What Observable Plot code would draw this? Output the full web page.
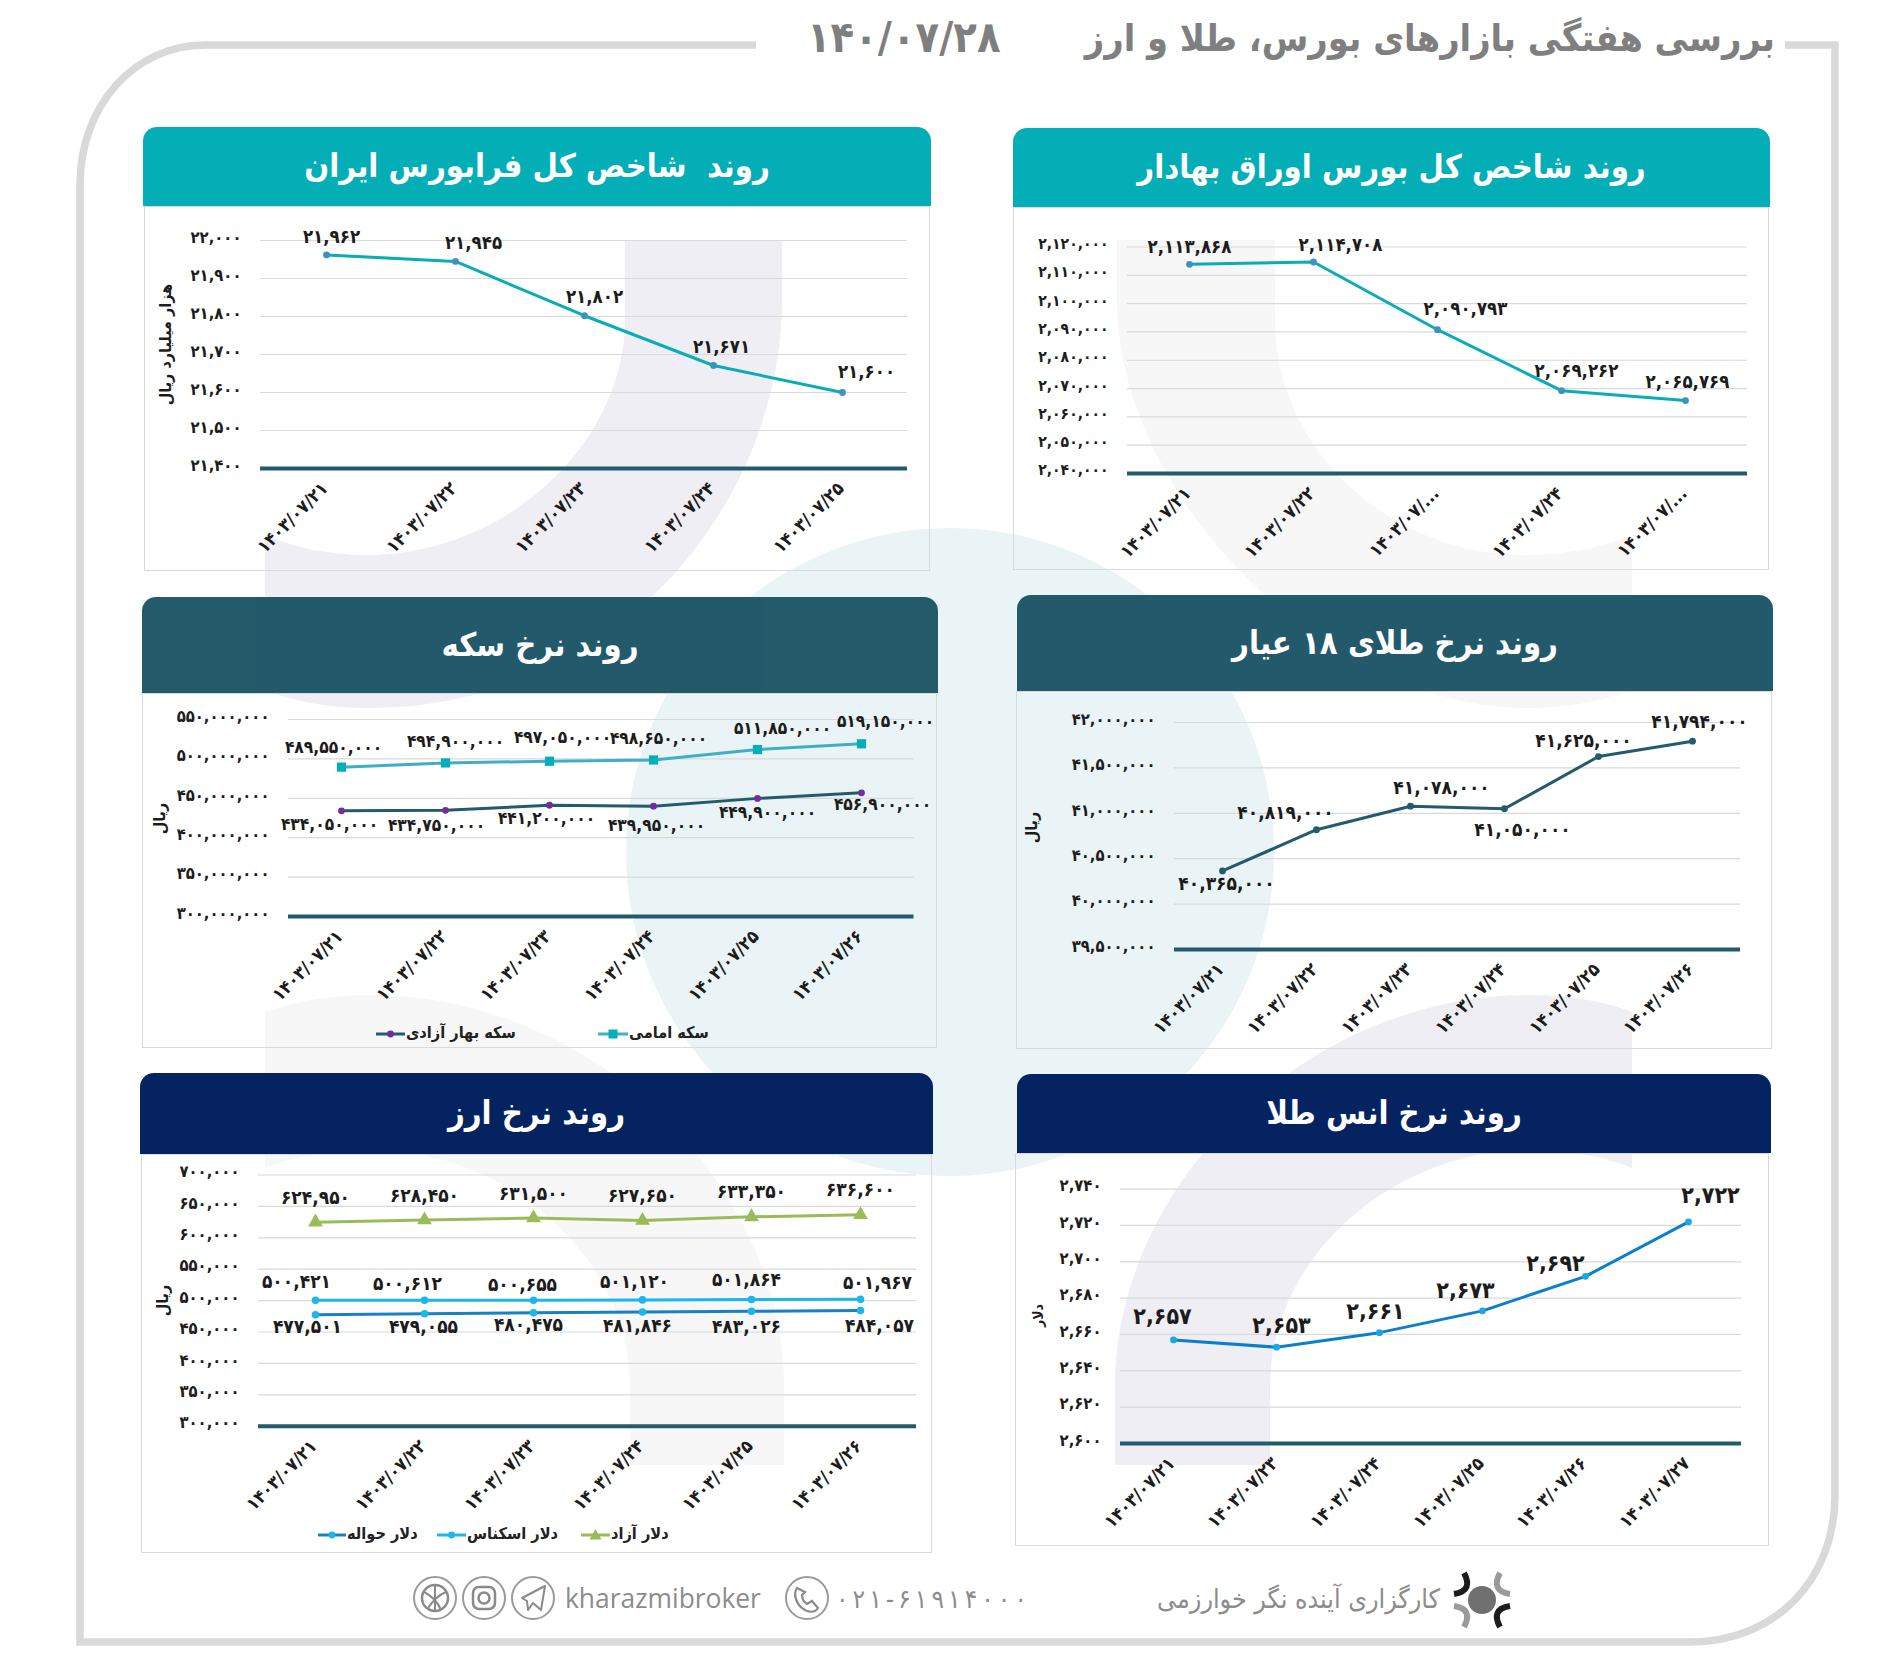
<!DOCTYPE html>
<html lang="fa">
<head>
<meta charset="utf-8">
<script src="https://cdn.jsdelivr.net/npm/d3@7"></script>
<script src="https://cdn.jsdelivr.net/npm/@observablehq/plot@0.6"></script>
<style>
html,body{margin:0;padding:0;background:#fff;}
#page{position:relative;width:1897px;height:1664px;overflow:hidden;font-family:"DejaVu Sans Condensed","DejaVu Sans",sans-serif;}
#page svg{position:absolute;overflow:visible;background:transparent;}
.box{position:absolute;border:1px solid #D9D9D9;box-sizing:border-box;}
.head{position:absolute;color:#fff;font-weight:bold;text-align:center;direction:rtl;border-radius:14px 14px 0 0;opacity:.985;white-space:pre;}
</style>
</head>
<body>
<div id="page"></div>
<script>
// ---------- data ----------
const datesA = ["۱۴۰۳/۰۷/۲۱","۱۴۰۳/۰۷/۲۲","۱۴۰۳/۰۷/۲۳","۱۴۰۳/۰۷/۲۴","۱۴۰۳/۰۷/۲۵"];
const datesB = datesA;
const tickLabelsB = ["۱۴۰۳/۰۷/۲۱","۱۴۰۳/۰۷/۲۲","۱۴۰۳/۰۷/...","۱۴۰۳/۰۷/۲۴","۱۴۰۳/۰۷/..."];
const datesSix = ["۱۴۰۳/۰۷/۲۱","۱۴۰۳/۰۷/۲۲","۱۴۰۳/۰۷/۲۳","۱۴۰۳/۰۷/۲۴","۱۴۰۳/۰۷/۲۵","۱۴۰۳/۰۷/۲۶"];
const datesOunce = ["۱۴۰۳/۰۷/۲۱","۱۴۰۳/۰۷/۲۳","۱۴۰۳/۰۷/۲۴","۱۴۰۳/۰۷/۲۵","۱۴۰۳/۰۷/۲۶","۱۴۰۳/۰۷/۲۷"];

const faraBourse = [21962,21945,21802,21671,21600];
const bondIndex = [2113868,2114708,2090793,2069262,2065769];
const coinImami = [489550000,494900000,497050000,498650000,511850000,519150000];
const coinBahar = [434050000,434750000,441200000,439950000,449900000,456900000];
const gold18 = [40365000,40819000,41078000,41050000,41625000,41794000];
const usdFree = [624950,628450,631500,627650,633350,636600];
const usdCash = [500421,500612,500655,501120,501864,501967];
const usdTransfer = [477501,479055,480475,481846,483026,484057];
const ounce = [2657,2653,2661,2673,2692,2722];

const ticksA = d3.range(21400,22001,100);
const ticksB = d3.range(2040000,2120001,10000);
const ticksC = d3.range(300000000,550000001,50000000);
const ticksD = d3.range(39500000,42000001,500000);
const ticksE = d3.range(300000,700001,50000);
const ticksF = d3.range(2600,2741,20);

const mainTitle = "بررسی هفتگی بازارهای بورس، طلا و ارز";
const mainDate = "۱۴۰/۰۷/۲۸";

// ---------- helpers ----------
const page = document.getElementById("page");
const faDigits = "۰۱۲۳۴۵۶۷۸۹";
const toFa = s => String(s).replace(/[0-9]/g, c => faDigits[+c]);
const fa = v => toFa(d3.format(",")(v));
const BASE = "#235B6C", GRID = "#D9D9D9", INK = "#1c1c1c";
const FONT = '"DejaVu Sans Condensed","DejaVu Sans",sans-serif';
const NS = "http://www.w3.org/2000/svg";

function el(parent, name, attrs, text){
  const e = document.createElementNS(NS, name);
  for (const k in attrs) e.setAttribute(k, attrs[k]);
  if (text !== undefined) e.textContent = text;
  parent.appendChild(e);
  return e;
}

// ---------- page decoration, behind the charts ----------
const back = el(page,"svg",{width:1897,height:1664,style:"left:0;top:0"});
el(back,"circle",{cx:950,cy:852,r:324,fill:"#EAF4F6"});
el(back,"path",{fill:"#EEEEF4",d:"M625,240 L782,240 L782,300 C782,500 620,708 368,708 C330,708 295,702 265,690 L265,535 C295,548 330,555 365,555 C510,555 625,440 625,320 Z"});
el(back,"path",{fill:"#F7F7F7",d:"M1117,240 L1275,240 L1275,320 C1275,450 1390,555 1526,555 C1565,555 1600,548 1632,535 L1632,690 C1600,702 1565,708 1526,708 C1330,708 1117,500 1117,300 Z"});
el(back,"path",{fill:"#F7F7F7",d:"M265,1012 C300,1000 335,995 370,995 C600,995 784,1190 784,1385 L784,1465 L630,1465 L630,1385 C630,1260 510,1150 370,1150 C335,1150 300,1155 265,1168 Z"});
el(back,"path",{fill:"#EEEEF4",d:"M1632,1012 C1600,1000 1565,995 1530,995 C1300,995 1115,1190 1115,1385 L1115,1465 L1270,1465 L1270,1385 C1270,1260 1390,1150 1530,1150 C1565,1150 1600,1155 1632,1168 Z"});
el(back,"path",{fill:"none",stroke:"#D9D9D9","stroke-width":7.5,d:"M756,45 L205,45 C135,45 80,105 80,185 L80,1642 L1690,1642 C1775,1642 1835,1580 1835,1495 L1835,45 L1785,45"});
el(back,"text",{x:1775,y:51,"text-anchor":"start",direction:"rtl","font-size":37.5,"font-weight":"bold",fill:"#7F7F7F","font-family":FONT},mainTitle);
el(back,"text",{x:807,y:52,"font-size":43,"font-weight":"bold",fill:"#7F7F7F","font-family":FONT},mainDate);

// ---------- one panel ----------
function panel({title, headColor, head, box, grid, yDomain, ticks, dates, tickLabels, series, yLabel, labelFont=18.5, titleSize=32.5, tickPad=17, yFont=16.5}){
  const [bl,bt,br,bb] = box, [gl,gt,gr,gb] = grid;
  const b = document.createElement("div");
  b.className = "box";
  b.style.cssText = `left:${bl}px;top:${bt}px;width:${br-bl}px;height:${bb-bt}px`;
  page.appendChild(b);
  const h = document.createElement("div");
  h.className = "head";
  h.style.cssText = `left:${head[0]}px;top:${head[1]}px;width:${head[2]-head[0]}px;height:${head[3]-head[1]}px;line-height:${head[3]-head[1]}px;background:${headColor};font-size:${titleSize}px`;
  h.textContent = title;
  page.appendChild(h);

  const marks = [
    Plot.gridY(ticks.slice(1),{stroke:GRID,strokeOpacity:1,strokeWidth:1.2}),
    Plot.ruleY([yDomain[0]],{stroke:BASE,strokeWidth:4}),
    Plot.axisY({ticks,tickSize:0,tickPadding:19,dy:-3,tickFormat:fa,fill:INK,fontSize:yFont}),
    Plot.axisX({tickRotate:-45,tickSize:0,tickPadding:tickPad,dx:-1.5,fill:INK,fontSize:18,
      tickFormat: tickLabels ? (d => tickLabels[dates.indexOf(d)]) : (d => d)})
  ];
  for (const s of series){
    const rows = dates.map((d,i)=>({date:d,value:s.values[i]}));
    marks.push(Plot.line(rows,{x:"date",y:"value",stroke:s.stroke,strokeWidth:s.width||3,curve:"linear"}));
    marks.push(Plot.dot(rows,{x:"date",y:"value",fill:s.marker,stroke:"none",symbol:s.symbol||"circle",r:s.r||3.4}));
    rows.forEach((row,i)=>marks.push(Plot.text([row],{x:"date",y:"value",text:d=>fa(d.value),
      dx:s.offsets[i][0],dy:s.offsets[i][1],fill:INK,fontSize:labelFont,fontWeight:"bold"})));
  }
  if (yLabel) marks.push(Plot.text([yLabel.text],{frameAnchor:"left",textAnchor:"middle",dx:yLabel.x-gl,dy:yLabel.y-(gt+gb)/2,rotate:-90,
    fill:INK,fontSize:yLabel.size||16,fontWeight:"bold"}));

  const chart = Plot.plot({
    width:br-bl,height:bb-bt,
    marginLeft:gl-bl,marginRight:br-gr,marginTop:gt-bt,marginBottom:bb-gb,
    x:{type:"point",domain:dates,label:null},
    y:{domain:yDomain,label:null},
    style:{background:"transparent",fontFamily:FONT,fontWeight:"bold",overflow:"visible"},
    marks
  });
  chart.style.left = bl+"px"; chart.style.top = bt+"px";
  page.appendChild(chart);
}

// ---------- panels ----------
panel({title:"روند  شاخص کل فرابورس ایران",headColor:"#00ADB5",head:[143,127,931,206],box:[144,206,930,571],grid:[260,240,907,468],
  yDomain:[21400,22000],ticks:ticksA,dates:datesA,
  yLabel:{text:"هزار میلیارد ریال",x:165,y:344,size:16},
  series:[{values:faraBourse,stroke:"#0AADB5",marker:"#3F93B8",
    offsets:[[5,-18],[18,-18],[10,-19],[8,-18],[24,-20]]}]});

panel({title:"روند شاخص کل بورس اوراق بهادار",headColor:"#00ADB5",head:[1013,128,1770,207],box:[1013,207,1769,570],grid:[1127,246.5,1747,473],
  yDomain:[2040000,2120000],ticks:ticksB,dates:datesB,tickLabels:tickLabelsB,yFont:15.5,
  series:[{values:bondIndex,stroke:"#0AADB5",marker:"#3F93B8",
    offsets:[[0,-17],[27,-17],[28,-21],[15,-20],[2,-18]]}]});

panel({title:"روند نرخ سکه",headColor:"#205869",head:[142,597,938,693],box:[142,693,937,1048],grid:[288,719,913.5,916],
  yDomain:[300000000,550000000],ticks:ticksC,dates:datesSix,labelFont:17.3,
  yLabel:{text:"ریال",x:159,y:818},
  series:[
   {values:coinImami,stroke:"#3FAEC9",marker:"#05AEB8",symbol:"square",r:5.2,
    offsets:[[-8,-20],[10,-21],[13,-24],[5,-22],[25,-21],[24,-22]]},
   {values:coinBahar,stroke:BASE,marker:"#6F2DA0",
    offsets:[[-12,14],[-9,15],[-3,13],[3,19],[10,14],[21,12]]}]});

panel({title:"روند نرخ طلای ۱۸ عیار",headColor:"#205869",head:[1017,595,1773,691],box:[1016,691,1772,1049],grid:[1174,722,1740,949],
  yDomain:[39500000,42000000],ticks:ticksD,dates:datesSix,labelFont:19,
  yLabel:{text:"ریال",x:1031,y:827},
  series:[{values:gold18,stroke:BASE,marker:BASE,
    offsets:[[4,13],[-31,-17],[31,-18],[18,21],[-15,-16],[7,-19]]}]});

panel({title:"روند نرخ ارز",headColor:"#01205E",head:[140,1073,933,1154],box:[141,1154,932,1553],grid:[258,1174.5,916,1425.7],
  yDomain:[300000,700000],ticks:ticksE,dates:datesSix,labelFont:19,
  yLabel:{text:"ریال",x:162,y:1300},
  series:[
   {values:usdFree,stroke:"#9BBB59",marker:"#9BBB59",symbol:"triangle",r:5.5,
    offsets:[[0,-24],[0,-24],[0,-24],[0,-25],[0,-25],[0,-25]]},
   {values:usdCash,stroke:"#1DB5EA",marker:"#1DB5EA",r:3.8,
    offsets:[[-19,-18],[-17,-16],[-11,-15],[-8,-18],[-5,-20],[17,-16]]},
   {values:usdTransfer,stroke:"#1A80C4",marker:"#1DB5EA",r:3.8,
    offsets:[[-8,12],[-1,13],[-5,12],[-5,14],[-5,16],[19,15]]}]});

panel({title:"روند نرخ انس طلا",headColor:"#01205E",head:[1017,1074,1771,1153],box:[1015,1153,1769,1546],grid:[1120,1188.6,1741,1443],
  yDomain:[2600,2740],ticks:ticksF,dates:datesOunce,labelFont:23,
  yLabel:{text:"دلار",x:1038,y:1315,size:14},
  series:[{values:ounce,stroke:"#0B7FCB",marker:"#1CA7E0",
    offsets:[[-11,-23],[5,-22],[-4,-21],[-17,-20],[-30,-13],[22,-26]]}]});

// ---------- legends and footer, above the charts ----------
const top_ = el(page,"svg",{width:1897,height:1664,style:"left:0;top:0;pointer-events:none"});
function legend(label,x0,x1,y,stroke,marker,shape){
  el(top_,"line",{x1:x0,x2:x1,y1:y,y2:y,stroke,"stroke-width":3});
  const c=(x0+x1)/2;
  if(shape==="square") el(top_,"rect",{x:c-4.5,y:y-4.5,width:9,height:9,fill:marker});
  else if(shape==="triangle") el(top_,"path",{d:`M${c-6},${y+4.5}L${c+6},${y+4.5}L${c},${y-6}Z`,fill:marker});
  else el(top_,"circle",{cx:c,cy:y,r:3.4,fill:marker});
  el(top_,"text",{x:x1+1,y:y+4,"font-size":16.2,"font-weight":"bold",fill:"#222","font-family":FONT},label);
}
legend("سکه بهار آزادی",376,405,1034,BASE,"#6F2DA0");
legend("سکه امامی",598,628,1034,"#3FAEC9","#05AEB8","square");
legend("دلار آزاد",581,610,1535,"#9BBB59","#9BBB59","triangle");
legend("دلار اسکناس",437,466,1535,"#1DB5EA","#1DB5EA");
legend("دلار حواله",318,346,1535,"#1A80C4","#1DB5EA");

const footGray="#8C8C8C";
el(top_,"text",{x:1440,y:1608,"text-anchor":"end","font-size":26.6,fill:footGray,"font-family":FONT,direction:"ltr"},"کارگزاری آینده نگر خوارزمی");
el(top_,"text",{x:836,y:1608,"font-size":26,fill:footGray,"font-family":FONT,textLength:191,lengthAdjust:"spacing"},"۰۲۱-۶۱۹۱۴۰۰۰");
el(top_,"text",{x:565,y:1608,"font-size":26.4,fill:footGray,"font-family":"\"Open Sans\",sans-serif"},"kharazmibroker");
for(const cx of [435,484,533,807]) el(top_,"circle",{cx,cy:1598,r:21,fill:"none",stroke:"#9a9a9a","stroke-width":2});
el(top_,"circle",{cx:435,cy:1598,r:13,fill:"none",stroke:"#8a8a8a","stroke-width":2.5});
el(top_,"path",{d:"M424,1592Q436,1598 441,1610M428,1608Q436,1596 446,1592M435,1585V1611",fill:"none",stroke:"#8a8a8a","stroke-width":2});
el(top_,"rect",{x:473,y:1587,width:22,height:22,rx:6,fill:"none",stroke:"#8a8a8a","stroke-width":2.5});
el(top_,"circle",{cx:484,cy:1598,r:5.5,fill:"none",stroke:"#8a8a8a","stroke-width":2.5});
el(top_,"path",{d:"M522,1598L545,1586L541,1610L533,1603L528,1610L527,1601Z",fill:"none",stroke:"#8a8a8a","stroke-width":2,"stroke-linejoin":"round"});
el(top_,"path",{d:"M797,1588C793,1594 796,1603 802,1608C808,1613 815,1613 818,1608L812,1601L807,1604C804,1602 802,1599 802,1595L805,1592Z",fill:"none",stroke:"#8a8a8a","stroke-width":2.2});
// broker logo
el(top_,"circle",{cx:1482,cy:1600,r:14,fill:"#707070"});
el(top_,"path",{d:"M1464,1573C1470,1584 1468,1592 1454,1594",fill:"none",stroke:"#1c1c1c","stroke-width":6});
el(top_,"path",{d:"M1500,1573C1494,1584 1496,1592 1510,1594",fill:"none",stroke:"#9a9a9a","stroke-width":6});
el(top_,"path",{d:"M1464,1627C1470,1616 1468,1608 1454,1606",fill:"none",stroke:"#9a9a9a","stroke-width":6});
el(top_,"path",{d:"M1500,1627C1494,1616 1496,1608 1510,1606",fill:"none",stroke:"#1c1c1c","stroke-width":6});
</script>
</body>
</html>
